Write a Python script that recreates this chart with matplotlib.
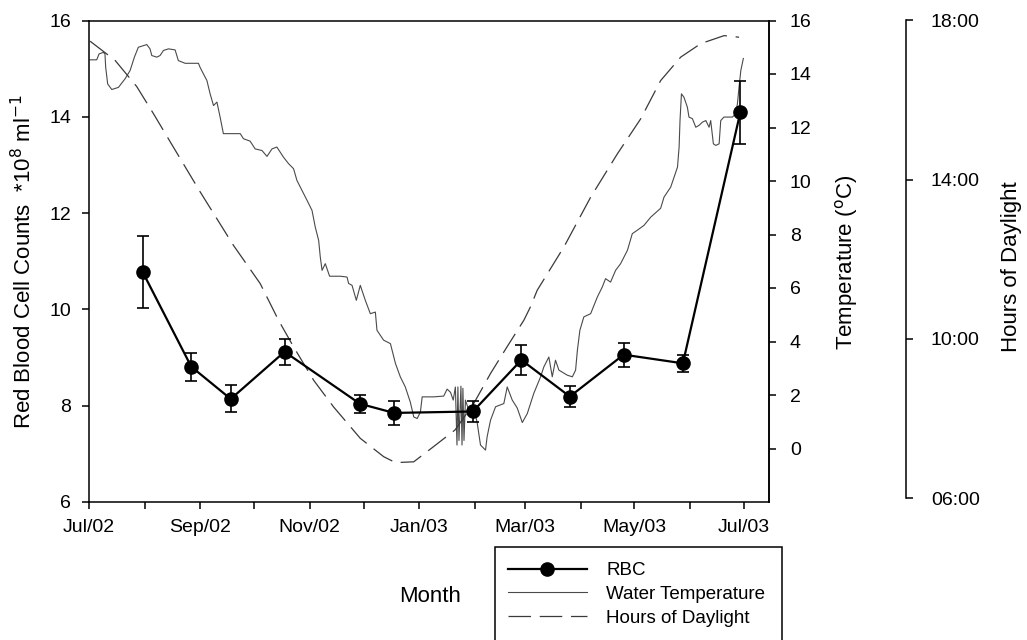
import datetime as dt

import matplotlib
matplotlib.use("Agg")
import matplotlib.pyplot as plt
import matplotlib.dates as mdates
import matplotlib.ticker as mticker
from matplotlib.lines import Line2D
from matplotlib.patches import Rectangle
import numpy as np

plt.rcParams['font.family'] = ['Liberation Sans', 'DejaVu Sans']

# ---------------------------------------------------------------- data
record_start = dt.date(2002, 7, 1)

rbc_dates = ["2002-07-31", "2002-08-27", "2002-09-18", "2002-10-18",
             "2002-11-29", "2002-12-18", "2003-01-31", "2003-02-27",
             "2003-03-26", "2003-04-25", "2003-05-28", "2003-06-29"]
rbc_values = [10.77, 8.81, 8.14, 9.12, 8.04, 7.85, 7.88, 8.95, 8.19, 9.06, 8.88, 14.09]
rbc_errors = [0.75, 0.29, 0.28, 0.27, 0.19, 0.25, 0.21, 0.31, 0.22, 0.25, 0.17, 0.66]

# water temperature logger: day of record (from 1 Jul 2002), degrees C
temp_day = [0.6, 4.3, 5.6, 8.0, 8.9, 9.3, 10.4, 12.7, 16.4, 20.1, 22.9, 25.3, 27.5,
            30.3, 32.2, 34.0, 35.0, 37.8, 39.6, 41.5, 44.3, 48.0, 49.8, 53.6, 61.0,
            61.9, 63.8, 65.7, 67.5, 69.4, 71.3, 73.1, 74.9, 84.3, 86.1, 89.8, 92.6,
            96.4, 99.2, 102.0, 104.7, 108.4, 111.2, 114.0, 115.9, 118.7, 121.5, 124.3,
            126.1, 128.0, 128.9, 129.9, 131.7, 134.1, 140.1, 143.8, 144.7, 146.6, 149.0,
            151.2, 154.0, 156.8, 159.6, 160.5, 164.2, 168.0, 170.8, 173.5, 176.3, 179.1,
            181.0, 182.9, 184.7, 185.7, 192.1, 197.7, 199.6, 201.5, 203.0, 204.2, 205.1,
            205.6, 206.2, 207.3, 207.9, 208.4, 209.0, 209.8, 211.7, 214.5, 216.4, 218.2,
            221.0, 221.9, 223.8, 226.6, 231.2, 233.1, 235.9, 238.7, 241.5, 244.3, 247.9,
            251.7, 253.5, 256.3, 258.2, 260.0, 261.9, 266.6, 269.4, 271.2, 272.2, 273.6,
            275.8, 279.6, 283.3, 286.1, 287.9, 290.7, 293.5, 296.3, 300.1, 302.8, 305.6,
            309.3, 313.1, 318.6, 320.5, 324.2, 326.1, 328.0, 328.9, 329.4, 330.2, 331.6,
            333.5, 334.4, 336.3, 338.2, 340.0, 341.9, 343.8, 345.6, 346.5, 348.0, 349.3,
            351.2, 352.1, 353.9, 358.6, 360.5, 361.4, 362.3, 363.3, 364.7]
temp_value = [14.53, 14.53, 14.75, 14.81, 14.75, 14.25, 13.63, 13.42, 13.50, 13.82, 14.13,
              14.63, 15.00, 15.06, 15.10, 14.94, 14.69, 14.63, 14.69, 14.88, 14.94, 14.90,
              14.50, 14.40, 14.40, 14.25, 14.00, 13.76, 13.26, 12.82, 12.95, 12.38, 11.77,
              11.77, 11.58, 11.49, 11.20, 11.14, 10.92, 11.20, 11.27, 10.89, 10.65, 10.46,
              10.02, 9.65, 9.28, 8.90, 8.28, 7.78, 7.16, 6.66, 6.91, 6.44, 6.44, 6.41, 6.17,
              6.10, 5.54, 6.10, 5.54, 5.04, 5.10, 4.42, 4.05, 3.92, 3.18, 2.68, 2.30, 1.73,
              1.18, 1.12, 1.36, 1.93, 1.93, 1.96, 2.22, 2.10, 1.81, 2.30, 0.13, 2.30, 0.30,
              2.33, 0.13, 2.25, 0.30, 1.81, 1.43, 1.56, 0.94, 0.13, -0.06, 0.44, 1.06, 1.56,
              1.68, 2.30, 1.81, 1.51, 0.97, 1.31, 2.06, 2.68, 3.05, 3.42, 2.68, 3.30, 2.93,
              2.74, 2.68, 2.93, 3.67, 4.42, 4.92, 5.04, 5.66, 6.04, 6.35, 6.22, 6.66, 6.91,
              7.41, 8.03, 8.16, 8.34, 8.65, 8.98, 9.40, 9.77, 10.15, 10.52, 11.27, 12.26,
              13.26, 13.13, 12.76, 12.39, 12.33, 12.01, 12.08, 12.20, 12.26, 12.01, 12.26,
              11.39, 11.33, 11.39, 12.26, 12.39, 12.39, 12.51, 12.89, 13.51, 14.13, 14.58]

# day length: day of record (from 1 Jul 2002), hours
daylight_day = [0.6, 14.5, 26.6, 35.9, 47.0, 62.0, 80.5, 95.4, 105.6, 114.0, 125.2,
                136.3, 151.2, 164.2, 170.8, 181.0, 192.0, 204.0, 214.5, 223.8, 233.0,
                242.4, 246.0, 249.8, 264.7, 279.6, 294.5, 307.5, 318.6, 329.8, 341.0,
                354.0, 362.3]
daylight_hours = [17.48, 17.00, 16.34, 15.66, 14.82, 13.69, 12.35, 11.39, 10.47, 9.80,
                  8.96, 8.29, 7.50, 7.04, 6.89, 6.91, 7.29, 7.71, 8.38, 9.13, 9.80,
                  10.47, 10.80, 11.22, 12.31, 13.56, 14.65, 15.53, 16.49, 17.08, 17.42,
                  17.62, 17.58]

legend_labels = ["RBC", "Water Temperature", "Hours of Daylight"]
hour_ticks = [6, 10, 14, 18]
hour_labels = ["06:00", "10:00", "14:00", "18:00"]

# ---------------------------------------------------------------- helpers
t0 = mdates.date2num(record_start)
rbc_x = mdates.datestr2num(rbc_dates)
temp_x = t0 + np.asarray(temp_day)
day_x = t0 + np.asarray(daylight_day)

FIG_W, FIG_H = 1027, 640


def fx(px):
    return px / FIG_W


def fy(py):
    return 1 - py / FIG_H


TICK_FS = 14
LABEL_FS = 16

temp_style = dict(color='#4a4a4a', lw=0.8)
day_style = dict(color='#3a3a3a', lw=0.9, dashes=(18, 7))
rbc_style = dict(color='black', lw=1.6, marker='o', ms=9.5)

# ---------------------------------------------------------------- figure
fig = plt.figure(figsize=(FIG_W / 100, FIG_H / 100), dpi=100)
ax = fig.add_axes([fx(89), fy(502), fx(769) - fx(89), fy(20.5) - fy(502)])
ax_t = ax.twinx()
ax_h = ax.twinx()

# RBC axis drawn above the environmental traces
ax.set_zorder(3)
ax.patch.set_visible(False)

ax.errorbar(rbc_x, rbc_values, yerr=rbc_errors, capsize=4, elinewidth=1.2,
            capthick=1.2, ecolor='black', zorder=5, **rbc_style)
ax_t.plot(temp_x, temp_value, **temp_style)
ax_h.plot(day_x, daylight_hours, **day_style)

# main axis
ax.set_xlim(mdates.date2num(dt.date(2002, 7, 1)), mdates.date2num(dt.date(2003, 7, 15)))
ax.set_ylim(6, 16)
ax.set_yticks([6, 8, 10, 12, 14, 16])
ax.xaxis.set_major_locator(mdates.MonthLocator())


def month_label(x, pos):
    d = mdates.num2date(x)
    return d.strftime('%b/%y') if d.month % 2 == 1 else ''


ax.xaxis.set_major_formatter(mticker.FuncFormatter(month_label))
ax.tick_params(axis='both', direction='out', length=5, width=1.1,
               labelsize=TICK_FS)
ax.tick_params(axis='y', pad=8)
ax.tick_params(axis='x', pad=7)
for side in ['left', 'bottom', 'top', 'right']:
    ax.spines[side].set_linewidth(1.1)

# temperature axis
ax_t.set_ylim(-2, 16)
ax_t.set_yticks(range(0, 17, 2))
ax_t.tick_params(axis='y', direction='out', length=5, width=1.1,
                 labelsize=TICK_FS, pad=10)
for side in ['left', 'bottom', 'top']:
    ax_t.spines[side].set_visible(False)
ax_t.spines['right'].set_linewidth(1.1)

# hours-of-daylight axis
ax_h.set_ylim(5.9, 18.0)
ax_h.spines['right'].set_position(('axes', (906 - 89) / (769 - 89)))
ax_h.spines['right'].set_bounds(6, 18)
ax_h.spines['right'].set_linewidth(1.1)
for side in ['left', 'bottom', 'top']:
    ax_h.spines[side].set_visible(False)
ax_h.set_yticks(hour_ticks)
ax_h.set_yticklabels(hour_labels)
ax_h.tick_params(axis='y', direction='out', length=5, width=1.1,
                 labelsize=TICK_FS, pad=13)

# axis titles
fig.text(fx(24), fy(262), 'Red Blood Cell Counts  *10$^{8}$ ml$^{-1}$',
         rotation=90, ha='center', va='center', fontsize=LABEL_FS)
fig.text(fx(846), fy(262), 'Temperature ($^{\\mathrm{o}}$C)',
         rotation=90, ha='center', va='center', fontsize=LABEL_FS)
fig.text(fx(1011), fy(267), 'Hours of Daylight',
         rotation=90, ha='center', va='center', fontsize=LABEL_FS)
fig.text(fx(430), fy(597), 'Month', ha='center', va='center', fontsize=LABEL_FS)

# legend box (open at the bottom edge of the page)
fig.patches.append(Rectangle((fx(495), fy(700)), fx(782) - fx(495), fy(547) - fy(700),
                             transform=fig.transFigure, fill=False,
                             edgecolor='black', lw=1.1))
handles = [Line2D([], [], **rbc_style),
           Line2D([], [], **temp_style),
           Line2D([], [], **day_style)]
fig.legend(handles, legend_labels, loc='upper left',
           bbox_to_anchor=(fx(508), fy(562)), bbox_transform=fig.transFigure,
           frameon=False, fontsize=13.5, handlelength=4.2, handletextpad=1.05,
           labelspacing=0.36, borderpad=0, borderaxespad=0)

fig.savefig('out.png', dpi=100)
